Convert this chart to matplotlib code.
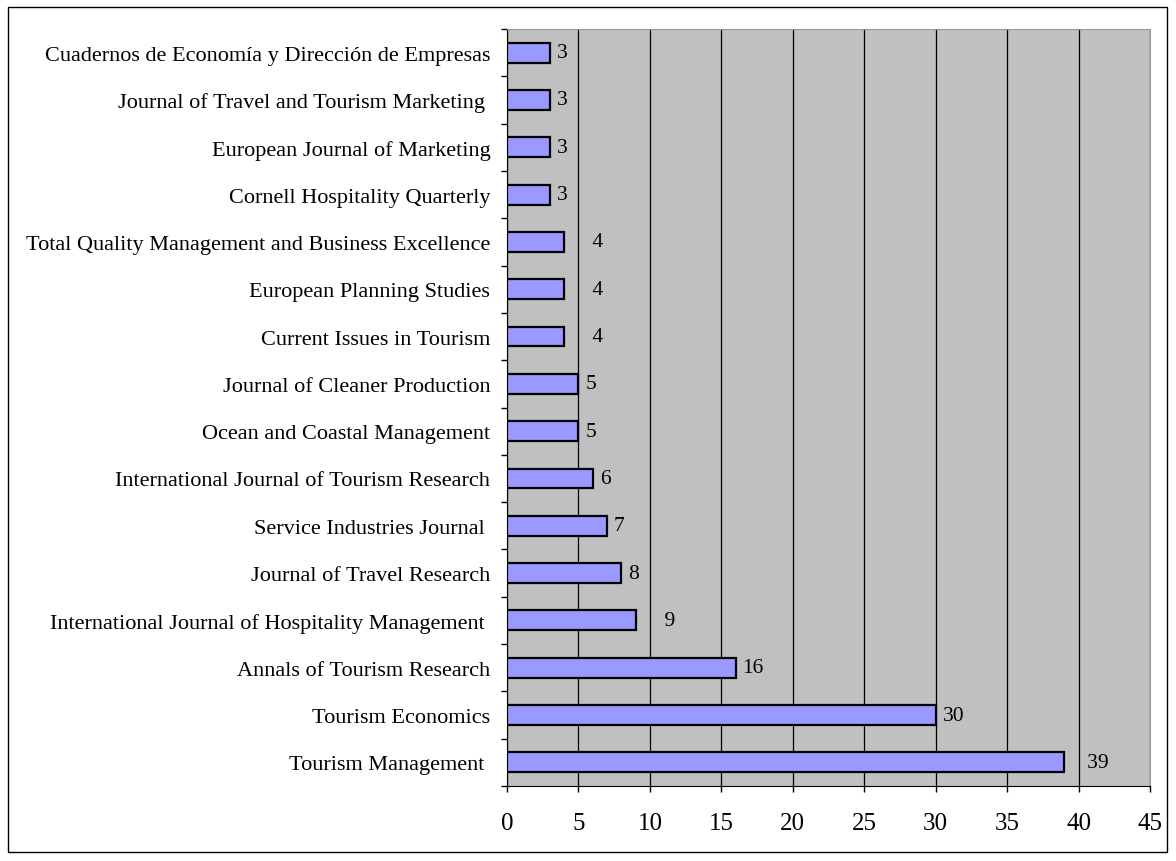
import matplotlib
matplotlib.use("Agg")
import matplotlib.pyplot as plt
from matplotlib.patches import Rectangle

# journals, top to bottom as in the chart
journals = [
    "Cuadernos de Economía y Dirección de Empresas",
    "Journal of Travel and Tourism Marketing ",
    "European Journal of Marketing",
    "Cornell Hospitality Quarterly",
    "Total Quality Management and Business Excellence",
    "European Planning Studies",
    "Current Issues in Tourism",
    "Journal of Cleaner Production",
    "Ocean and Coastal Management",
    "International Journal of Tourism Research",
    "Service Industries Journal ",
    "Journal of Travel Research",
    "International Journal of Hospitality Management ",
    "Annals of Tourism Research",
    "Tourism Economics",
    "Tourism Management ",
]
counts = [3, 3, 3, 3, 4, 4, 4, 5, 5, 6, 7, 8, 9, 16, 30, 39]
value_labels = ["3", "3", "3", "3", "    4", "    4", "    4", "5", "5", "6",
                "7", "8", "    9", "16", "30", "   39"]
x_ticks = [0, 5, 10, 15, 20, 25, 30, 35, 40, 45]

plt.rcParams["font.family"] = ["Liberation Serif", "DejaVu Serif"]
plt.rcParams["font.size"] = 16

fig = plt.figure(figsize=(11.76, 8.62), dpi=100)
ax = fig.add_axes([507 / 1176, 1 - 787 / 862, 643 / 1176, 757 / 862])
ax.set_facecolor("#C0C0C0")

y = list(range(len(journals)))
bars = ax.barh(y, counts, height=0.42, color="#9999FF", edgecolor="black",
               linewidth=1.6, zorder=3)
for i, (v, lab) in enumerate(zip(counts, value_labels)):
    ax.annotate(lab, (v, i), xytext=(5, 0), textcoords="offset points",
                va="center", ha="left", fontsize=15.5, zorder=4)

ax.set_xlim(0, 45)
ax.set_ylim(len(journals) - 0.5, -0.5)
ax.set_xticks(x_ticks)
ax.set_xticklabels([str(t) for t in x_ticks], fontsize=18)
ax.set_yticks(y)
ax.set_yticklabels(journals, fontsize=16)
ax.set_yticks([i + 0.5 for i in range(-1, len(journals))], minor=True)
ax.tick_params(axis="y", which="major", length=0, pad=12)
ax.tick_params(axis="y", which="minor", length=4, width=1, direction="out")
ax.tick_params(axis="x", length=4, width=1, direction="out", pad=15)

ax.grid(axis="x", color="black", linewidth=0.9, zorder=1)
ax.set_axisbelow(True)

for side in ["top", "right"]:
    ax.spines[side].set_color("#999999")
ax.spines["left"].set_color("black")
ax.spines["bottom"].set_color("black")

fig.patches.append(Rectangle((8 / 1176, 1 - 853 / 862), 1159 / 1176, 845 / 862,
                             transform=fig.transFigure, fill=False,
                             edgecolor="black", linewidth=1))

fig.savefig("out.png", dpi=100)
